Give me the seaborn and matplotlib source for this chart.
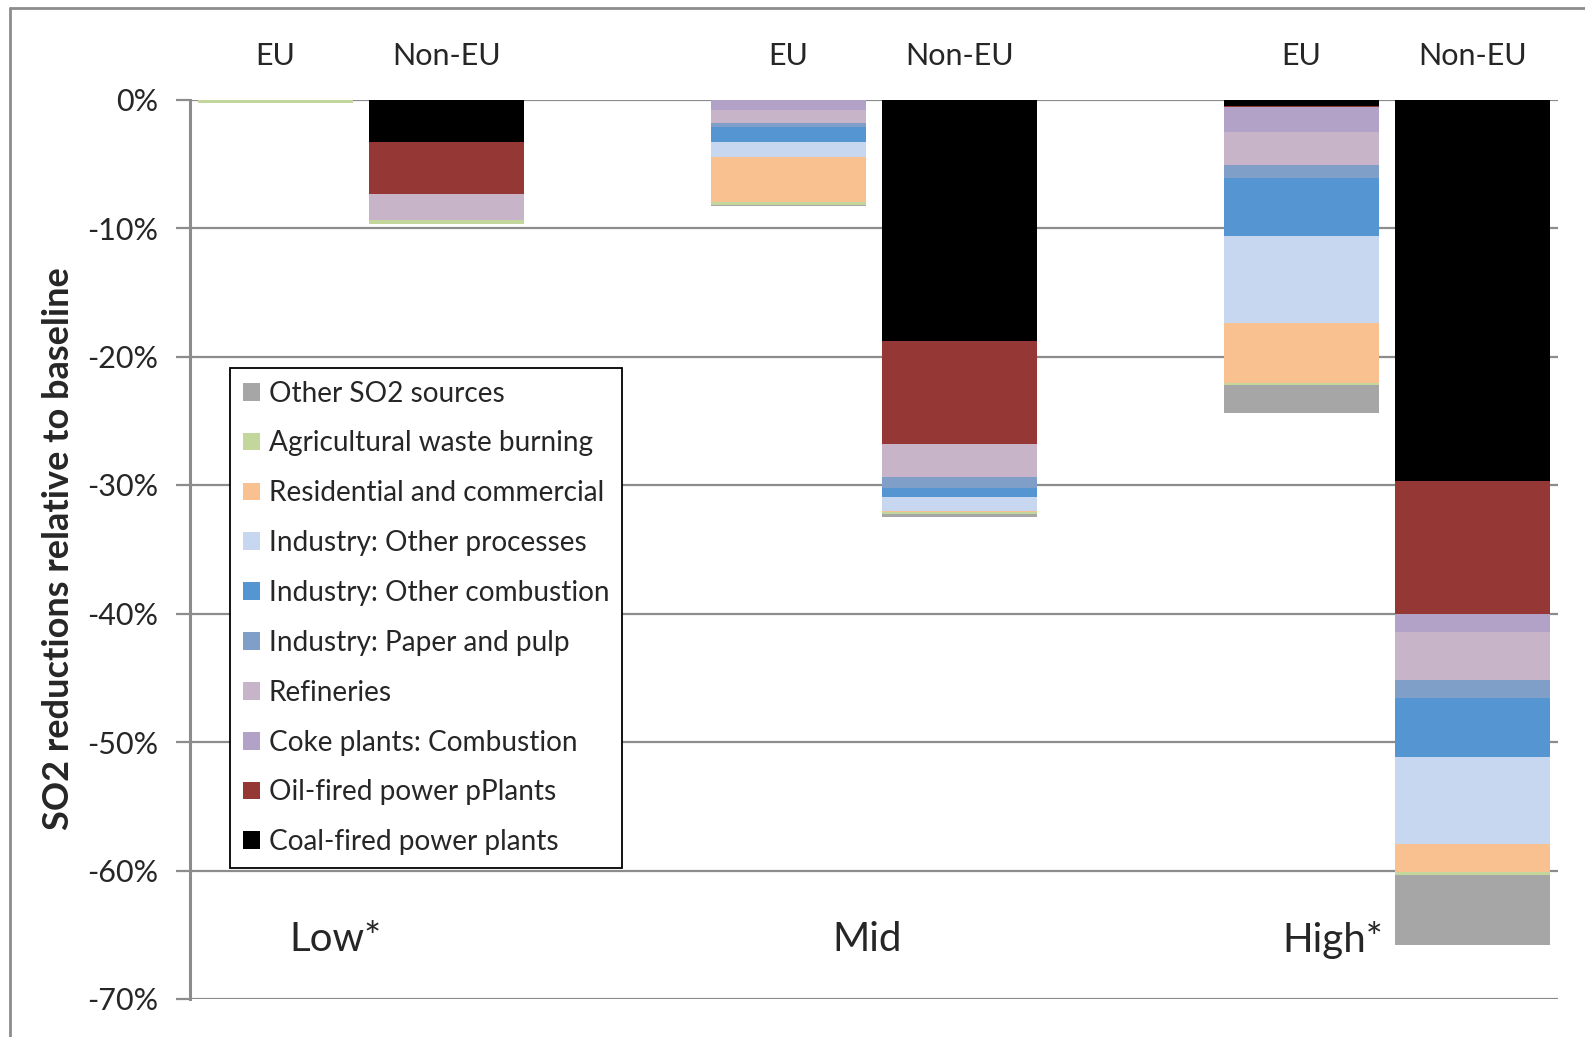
import numpy as np
import pandas as pd
import matplotlib
matplotlib.use("Agg")
import matplotlib.pyplot as plt
from matplotlib.patches import Patch
from matplotlib.lines import Line2D
import seaborn as sns

# Bars: three scenarios, each split into EU and Non-EU
bars = ["Low EU", "Low Non-EU", "Mid EU", "Mid Non-EU", "High EU", "High Non-EU"]
slots = ["Low EU", "Low Non-EU", "gap1", "Mid EU", "Mid Non-EU", "gap2", "High EU", "High Non-EU"]
region_labels = ["EU", "Non-EU", "EU", "Non-EU", "EU", "Non-EU"]
scenario_labels = ["Low*", "Mid", "High*"]

# SO2 reductions relative to baseline (%), per source, in stacking order from 0 downward
sources = [
    "Coal-fired power plants",
    "Oil-fired power pPlants",
    "Coke plants: Combustion",
    "Refineries",
    "Industry: Paper and pulp",
    "Industry: Other combustion",
    "Industry: Other processes",
    "Residential and commercial",
    "Agricultural waste burning",
    "Other SO2 sources",
]
coal = [0.0, -3.32, 0.0, -18.8, -0.52, -29.7]
oil = [0.0, -4.07, 0.0, -8.0, -0.05, -10.37]
coke = [0.0, 0.0, -0.78, 0.0, -1.97, -1.35]
refineries = [0.0, -2.02, -1.04, -2.57, -2.57, -3.76]
paper_pulp = [0.0, 0.0, -0.31, -0.88, -0.99, -1.42]
other_combustion = [0.0, 0.0, -1.17, -0.70, -4.51, -4.59]
other_processes = [0.0, 0.0, -1.17, -1.09, -6.79, -6.74]
residential = [0.0, 0.0, -3.48, -0.10, -4.64, -2.18]
agri_waste = [-0.30, -0.26, -0.23, -0.15, -0.16, -0.26]
other_so2 = [0.0, 0.0, -0.13, -0.21, -2.18, -5.44]

colors = ["#000000", "#953735", "#B3A2C7", "#C8B4C8", "#7F9FC9",
          "#5495D2", "#C6D7EF", "#F9C090", "#C3D69B", "#A6A6A6"]

series = [coal, oil, coke, refineries, paper_pulp, other_combustion,
          other_processes, residential, agri_waste, other_so2]

rows = []
for src, vals in zip(sources, series):
    for b, v in zip(bars, vals):
        rows.append({"slot": b, "source": src, "value": v})
df = pd.DataFrame(rows)
df["source"] = pd.Categorical(df["source"], categories=sources, ordered=True)
df = df.sort_values(["slot", "source"])
df["cum"] = df.groupby("slot", observed=True)["value"].cumsum()

sns.set_style("white")
plt.rcParams["font.family"] = ["Lato", "DejaVu Sans"]

W, H = 1585, 1037
fig = plt.figure(figsize=(W / 100, H / 100), dpi=100)
ax = fig.add_axes([190 / W, 1 - 999 / H, (1558 - 190) / W, (999 - 99.5) / H])

grid_c = "#8C8C8C"
for y in range(-70, 1, 10):
    ax.axhline(y, color=grid_c, lw=1.6, zorder=0)

# Overlapping cumulative bars give the stacked look
for src, col in reversed(list(zip(sources, colors))):
    sub = df[df["source"] == src]
    sns.barplot(data=sub, x="slot", y="cum", order=slots, color=col,
                saturation=1, width=0.905, errorbar=None, linewidth=0,
                ax=ax, zorder=2)

ax.set_xlim(-0.5, 7.5)
ax.set_ylim(-70, 0)
ax.set_xlabel("")
ax.set_ylabel("")
ax.set_xticks([])
ax.set_yticks(range(-70, 1, 10))
ax.set_yticklabels([f"{t}%" for t in range(-70, 1, 10)], fontsize=22)
ax.tick_params(axis="y", length=10, width=1.6, color=grid_c, pad=13, left=True)
for s in ["top", "right", "bottom"]:
    ax.spines[s].set_visible(False)
ax.spines["left"].set_color(grid_c)
ax.spines["left"].set_linewidth(2.2)

# Region labels above bars and scenario labels near the bottom
xpos = [0, 1, 3, 4, 6, 7]
for x, lab in zip(xpos, region_labels):
    ax.text(x, 1.048, lab, transform=ax.get_xaxis_transform(), ha="center",
            va="center", fontsize=22)
for x, lab in zip([0.35, 3.46, 6.18], scenario_labels):
    ax.text(x, -65.4, lab, ha="center", va="center", fontsize=29)

fig.text(59 / W, 1 - 549 / H, "SO2 reductions relative to baseline", rotation=90,
         ha="center", va="center", fontsize=26, fontweight="bold")

handles = [Patch(facecolor=c, edgecolor="none", label=s)
           for s, c in reversed(list(zip(sources, colors)))]
leg = ax.legend(handles=handles, loc="upper left", bbox_to_anchor=(0.0296, 0.7015),
                borderaxespad=0, fontsize=20.2, frameon=True, fancybox=False,
                edgecolor="black", framealpha=1, handlelength=0.6, handleheight=0.6,
                handletextpad=0.32, labelspacing=0.85, borderpad=0.45)
leg.get_frame().set_linewidth(1.3)

# Figure outline
fig.add_artist(Line2D([10 / W, 10 / W], [0, 1 - 8 / H], transform=fig.transFigure,
                      color=grid_c, lw=2))
fig.add_artist(Line2D([10 / W, 1], [1 - 8 / H, 1 - 8 / H], transform=fig.transFigure,
                      color=grid_c, lw=2))

fig.savefig("out.png", dpi=100)
